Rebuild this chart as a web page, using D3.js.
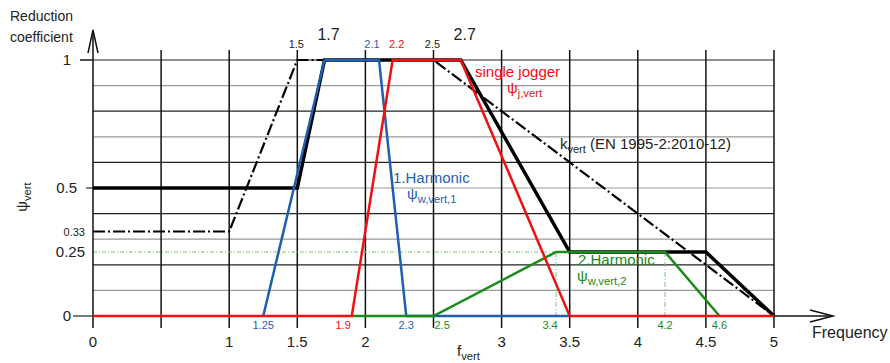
<!DOCTYPE html>
<html><head><meta charset="utf-8">
<script src="https://cdn.jsdelivr.net/npm/d3@7"></script>
<style>body{margin:0;background:#fff}svg{display:block;font-family:"Liberation Sans",Arial,sans-serif}</style>
</head><body>
<svg id="c" width="890" height="363"></svg>
<script>
// ---- data ----
const kVert  = [[0,0.33],[1,0.33],[1.5,1],[2.5,1],[5,0]];
const psiVert= [[0,0.5],[1.5,0.5],[1.7,1],[2.7,1],[3.5,0.25],[4.5,0.25],[5,0]];
const psiJ   = [[0,0],[1.9,0],[2.2,1],[2.7,1],[3.5,0],[5,0]];
const psiW1  = [[1.25,0],[1.7,1],[2.1,1],[2.3,0],[3.5,0]];
const psiW2  = [[1.9,0],[2.5,0],[3.4,0.25],[4.2,0.25],[4.6,0]];
const xGrid  = [0.5,1,1.5,2,2.5,3,3.5,4,4.5,5];
const yGrid  = [0.1,0.2,0.3,0.4,0.5,0.6,0.7,0.8,0.9,1];
const xTickLabels = [0,1,1.5,2,3,3.5,4,4.5,5];
const yTickLabels = [{v:1,t:"1",big:true,tick:13},{v:0.5,t:"0.5",big:true,tick:7},{v:0.33,t:"0.33",big:false,tick:0},{v:0.25,t:"0.25",big:true,tick:0},{v:0,t:"0",big:true,tick:20}];
const topLabels = [{v:1.5,t:"1.5",c:"#222",dx:-1},{v:2.1,t:"2.1",c:"#1f5fb0",dx:-7},{v:2.2,t:"2.2",c:"#f01010",dx:4},{v:2.5,t:"2.5",c:"#222",dx:-1}];
const topBig = [1.7,2.7];
const bottomLabels = [{v:1.25,t:"1.25",c:"#1f5fb0",a:"middle",dx:0},{v:1.9,t:"1.9",c:"#f01010",a:"end",dx:-1},{v:2.3,t:"2.3",c:"#1f5fb0",a:"middle",dx:0},{v:2.5,t:"2.5",c:"#1a8a1a",a:"start",dx:1},{v:3.4,t:"3.4",c:"#1a8a1a",a:"middle",dx:-6},{v:4.2,t:"4.2",c:"#1a8a1a",a:"middle",dx:0},{v:4.6,t:"4.6",c:"#1a8a1a",a:"middle",dx:0}];
const guideH = [[0,0.25],[3.4,0.25]];
const guideV = [3.4,4.2];

const BLUE="#1f5fb0", RED="#f01010", GREEN="#1a8a1a", LGREEN="#7cc47c";
const svg = d3.select("#c");
const x = d3.scaleLinear().domain([0,5]).range([93,774]);
const y = d3.scaleLinear().domain([0,1]).range([316,60]);
const line = d3.line().x(d=>x(d[0])).y(d=>y(d[1]));

// grid
svg.append("g").selectAll("line").data(yGrid).join("line")
  .attr("x1",d=>d===1?80:x(0)).attr("x2",x(5)).attr("y1",d=>y(d)).attr("y2",d=>y(d))
  .attr("stroke",(d,i)=>i%2===0?"#999":"#222").attr("stroke-width",1.2);
svg.append("g").selectAll("line").data(xGrid).join("line")
  .attr("x1",d=>x(d)).attr("x2",d=>x(d)).attr("y1",50).attr("y2",328)
  .attr("stroke","#111").attr("stroke-width",1.5);

// guides
svg.append("path").attr("d",line(guideH)).attr("fill","none").attr("stroke",LGREEN).attr("stroke-width",1).attr("stroke-dasharray","4,2,1,2");
svg.append("g").selectAll("line").data(guideV).join("line")
  .attr("x1",d=>x(d)).attr("x2",d=>x(d)).attr("y1",y(0.25)).attr("y2",y(0))
  .attr("stroke",LGREEN).attr("stroke-width",1).attr("stroke-dasharray","5,2,1,2");

// axes
svg.append("line").attr("x1",x(0)).attr("x2",833).attr("y1",y(0)).attr("y2",y(0)).attr("stroke","#111").attr("stroke-width",1.5);
svg.append("line").attr("x1",x(0)).attr("x2",x(0)).attr("y1",328).attr("y2",30).attr("stroke","#111").attr("stroke-width",1.5);
svg.append("path").attr("d","M88,53L93,30L98,53").attr("fill","none").attr("stroke","#111").attr("stroke-width",1.5);
svg.append("path").attr("d","M810,310L833,316L810,322").attr("fill","none").attr("stroke","#111").attr("stroke-width",1.5);
svg.append("g").selectAll("line").data(yTickLabels.filter(d=>d.tick>0)).join("line")
  .attr("x1",d=>x(0)-d.tick).attr("x2",x(0)).attr("y1",d=>y(d.v)).attr("y2",d=>y(d.v))
  .attr("stroke","#222").attr("stroke-width",1.2);

// series
svg.append("path").attr("d",line(psiVert)).attr("fill","none").attr("stroke","#000").attr("stroke-width",3.5);
svg.append("path").attr("d",line(kVert)).attr("fill","none").attr("stroke","#000").attr("stroke-width",2.2).attr("stroke-dasharray","12,3,2,3");
svg.append("path").attr("d",line(psiW1)).attr("fill","none").attr("stroke",BLUE).attr("stroke-width",2.5);
svg.append("path").attr("d",line(psiW2)).attr("fill","none").attr("stroke",GREEN).attr("stroke-width",2.5);
svg.append("path").attr("d",line(psiJ)).attr("fill","none").attr("stroke",RED).attr("stroke-width",2.5);

// text
function txt(t,xx,yy,size,color,anchor){return svg.append("text").attr("x",xx).attr("y",yy).attr("font-size",size).attr("fill",color||"#222").attr("text-anchor",anchor||"start").text(t);}
function sub(main,s,xx,yy,size,color,anchor){
  const el=svg.append("text").attr("x",xx).attr("y",yy).attr("font-size",size).attr("fill",color).attr("text-anchor",anchor||"start");
  el.append("tspan").text(main);
  el.append("tspan").attr("font-size",size*0.75).attr("dy",4).text(s);
  return el;
}
txt("Reduction",10,21,14);
txt("coefficient",10,42,14);
yTickLabels.forEach(d=>{
  const ax = d.v===0||d.v===1?71:(d.big?77:85);
  txt(d.t, d.v===0.33?85:(d.v===0.25?85:ax), y(d.v)+(d.big?5:4), d.big?15:11, "#222","end");
});
sub("ψ","vert",0,0,15,"#222","middle").attr("transform","translate(27,197) rotate(-90)");
xTickLabels.forEach(v=>txt(String(v),x(v),347,15,"#222","middle"));
topBig.forEach(v=>txt(String(v),x(v)+4,40,16,"#222","middle"));
topLabels.forEach(d=>txt(d.t,x(d.v)+d.dx,48,11,d.c,"middle"));
bottomLabels.forEach(d=>txt(d.t,x(d.v)+d.dx,329,11,d.c,d.a));
sub("f","vert",457,356,15,"#222");
txt("Frequency",812,338,16,"#222");
txt("single jogger",475,77,15,RED);
sub("ψ","j,vert",507,93,15,RED);
sub("k","vert (EN 1995-2:2010-12)",560,149,15,"#222").call(el=>{el.select("tspan:last-child").remove();el.append("tspan").attr("font-size",11).attr("dy",4).text("vert");el.append("tspan").attr("dy",-4).text(" (EN 1995-2:2010-12)");});
txt("1.Harmonic",393,183,15,BLUE);
sub("ψ","w,vert,1",407,199,15,BLUE);
txt("2.Harmonic",578,265,15,GREEN);
sub("ψ","w,vert,2",577,281,15,GREEN);
</script>
</body></html>
